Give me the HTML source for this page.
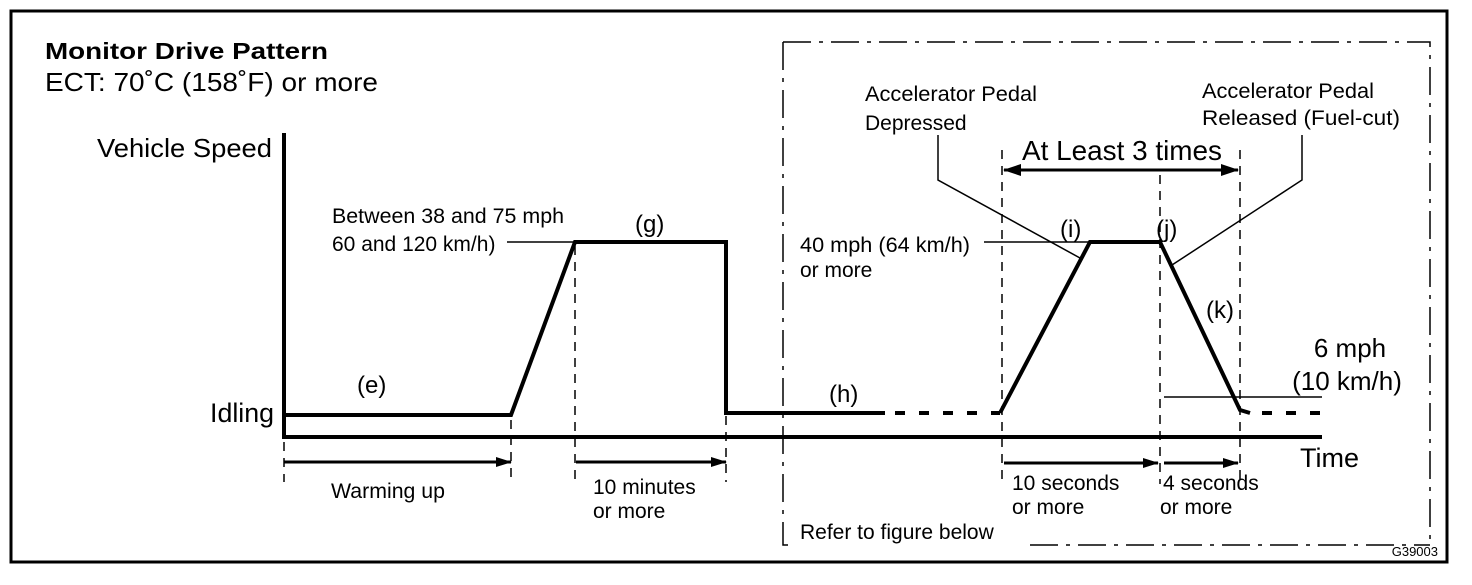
<!DOCTYPE html>
<html><head><meta charset="utf-8"><style>
html,body{margin:0;padding:0;background:#fff;}
svg text{font-family:"Liberation Sans",Arial,sans-serif;fill:#000;}
</style></head><body>
<svg width="1472" height="580" viewBox="0 0 1472 580" xmlns="http://www.w3.org/2000/svg">
<defs>
<marker id="ar" markerWidth="16" markerHeight="10" refX="15" refY="5" orient="auto" markerUnits="userSpaceOnUse"><path d="M0,0 L16,5 L0,10 Z" fill="#000"/></marker>
<marker id="arb" markerWidth="18" markerHeight="12" refX="17" refY="6" orient="auto-start-reverse" markerUnits="userSpaceOnUse"><path d="M0,0 L18,6 L0,12 Z" fill="#000"/></marker>
</defs>
<rect x="11" y="11" width="1436" height="551" fill="none" stroke="#000" stroke-width="3"/>
<g fill="none" stroke="#000" stroke-width="1.5" stroke-dasharray="28,8,4,8">
<path d="M783,42 L1430,42 L1430,545"/>
<path d="M783,42 L783,545 L793,545"/>
<path d="M1030,545 L1430,545"/>
</g>
<text x="45" y="59" font-size="23" font-weight="bold" textLength="283" lengthAdjust="spacingAndGlyphs">Monitor Drive Pattern</text>
<text x="45" y="91" font-size="26" textLength="333" lengthAdjust="spacingAndGlyphs">ECT: 70˚C (158˚F) or more</text>
<text x="272" y="157" font-size="26" text-anchor="end" textLength="175" lengthAdjust="spacingAndGlyphs">Vehicle Speed</text>
<text x="274" y="422" font-size="27" text-anchor="end" textLength="64" lengthAdjust="spacingAndGlyphs">Idling</text>
<line x1="284" y1="133" x2="284" y2="439" stroke="#000" stroke-width="4"/>
<line x1="282" y1="437" x2="1322" y2="437" stroke="#000" stroke-width="4"/>
<polyline points="284,415 511,415 575,242 726,242 726,413 885,413" fill="none" stroke="#000" stroke-width="4"/>
<line x1="895" y1="413" x2="1000" y2="413" stroke="#000" stroke-width="4" stroke-dasharray="10,14"/>
<polyline points="1000,413 1090,242 1160,242 1240,410 1250,413" fill="none" stroke="#000" stroke-width="4"/>
<line x1="1262" y1="413" x2="1320" y2="413" stroke="#000" stroke-width="4" stroke-dasharray="10,14"/>
<g stroke="#000" stroke-width="1.5" fill="none">
<line x1="507" y1="242" x2="575" y2="242"/>
<line x1="984" y1="242" x2="1090" y2="242"/>
<line x1="1164" y1="397" x2="1322" y2="397"/>
<polyline points="938,135 938,180 1080,258"/>
<polyline points="1302,135 1302,180 1172,265"/>
</g>
<g stroke="#000" stroke-width="1.5" stroke-dasharray="9,7">
<line x1="284" y1="442" x2="284" y2="482"/>
<line x1="511" y1="420" x2="511" y2="482"/>
<line x1="575" y1="246" x2="575" y2="482"/>
<line x1="726" y1="416" x2="726" y2="482"/>
<line x1="1002" y1="150" x2="1002" y2="484"/>
<line x1="1160" y1="175" x2="1160" y2="484"/>
<line x1="1240" y1="150" x2="1240" y2="484"/>
</g>
<g stroke="#000" stroke-width="3">
<line x1="284" y1="462" x2="511" y2="462" marker-end="url(#ar)"/>
<line x1="576" y1="462" x2="726" y2="462" marker-end="url(#ar)"/>
<line x1="1004" y1="463" x2="1158" y2="463" marker-end="url(#ar)"/>
<line x1="1164" y1="463" x2="1238" y2="463" marker-end="url(#ar)"/>
<line x1="1004" y1="170" x2="1238" y2="170" marker-start="url(#arb)" marker-end="url(#arb)"/>
</g>
<text x="1122" y="160" font-size="28" text-anchor="middle" textLength="200" lengthAdjust="spacingAndGlyphs">At Least 3 times</text>
<g font-size="21">
<text x="332" y="223" textLength="232" lengthAdjust="spacingAndGlyphs">Between 38 and 75 mph</text>
<text x="332" y="251">60 and 120 km/h)</text>
<text x="800" y="252" textLength="170" lengthAdjust="spacingAndGlyphs">40 mph (64 km/h)</text>
<text x="800" y="277">or more</text>
<text x="865" y="101" textLength="172" lengthAdjust="spacingAndGlyphs">Accelerator Pedal</text>
<text x="865" y="130">Depressed</text>
<text x="1202" y="98" textLength="172" lengthAdjust="spacingAndGlyphs">Accelerator Pedal</text>
<text x="1202" y="125" textLength="198" lengthAdjust="spacingAndGlyphs">Released (Fuel-cut)</text>
<text x="331" y="498" textLength="114" lengthAdjust="spacingAndGlyphs">Warming up</text>
<text x="593" y="494">10 minutes</text>
<text x="593" y="518">or more</text>
<text x="1012" y="490">10 seconds</text>
<text x="1012" y="514">or more</text>
<text x="1163" y="490">4 seconds</text>
<text x="1160" y="514">or more</text>
<text x="800" y="539">Refer to figure below</text>
</g>
<g font-size="24">
<text x="357" y="393">(e)</text>
<text x="635" y="232">(g)</text>
<text x="829" y="402">(h)</text>
<text x="1060" y="237">(i)</text>
<text x="1156" y="237">(j)</text>
<text x="1206" y="318">(k)</text>
</g>
<text x="1350" y="357" font-size="26" text-anchor="middle">6 mph</text>
<text x="1347" y="390" font-size="26" text-anchor="middle">(10 km/h)</text>
<text x="1300" y="467" font-size="27">Time</text>
<text x="1438" y="556" font-size="13" text-anchor="end">G39003</text>
</svg>
</body></html>
